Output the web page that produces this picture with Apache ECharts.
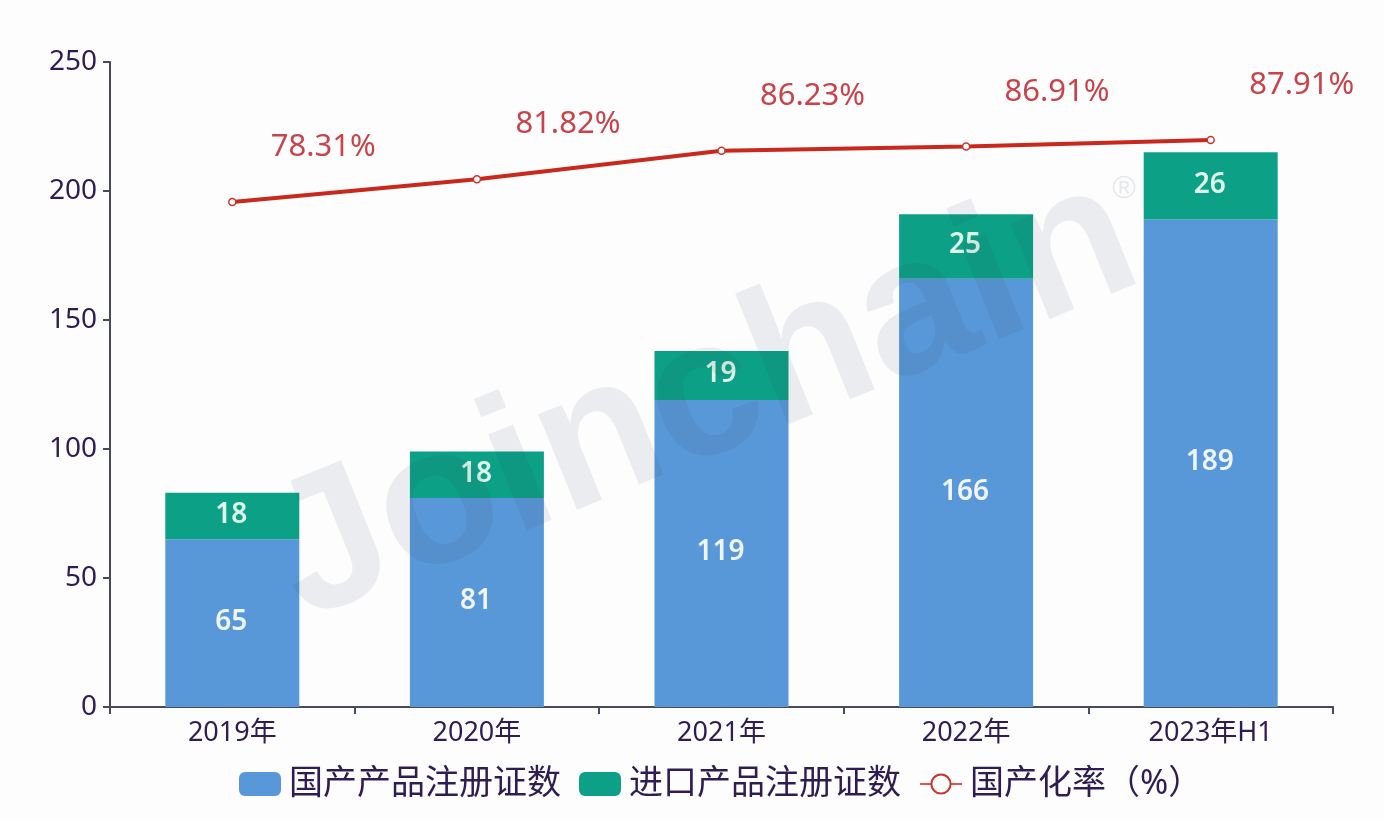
<!DOCTYPE html>
<html>
<head>
    <meta charset="utf-8" />
    <script src="https://cdn.jsdelivr.net/npm/echarts@6/dist/echarts.min.js"></script>
    <style>
        html, body { margin: 0; padding: 0; background: #fdfdfe; }
        #main { width: 1384px; height: 820px; }
    </style>
</head>
<body>
<div id="main"></div>
<script type="text/javascript">
    var categories = ['2019年', '2020年', '2021年', '2022年', '2023年H1'];
    var domestic = [65, 81, 119, 166, 189];
    var imported = [18, 18, 19, 25, 26];
    var domesticRate = [78.31, 81.82, 86.23, 86.91, 87.91];

    var textColor = '#2e1c52';
    var font = '"Noto Sans", "Noto Sans CJK SC", sans-serif';

    var chart = echarts.init(document.getElementById('main'));
    var option = {
        backgroundColor: '#fdfdfe',
        textStyle: { fontFamily: font },
        grid: { left: 110, right: 51, top: 62, bottom: 113 },
        legend: {
            left: 234,
            top: 762,
            itemWidth: 42,
            itemHeight: 24,
            itemGap: 18,
            textStyle: { fontSize: 34, color: textColor, fontFamily: font, padding: [0, 0, 0, 3] },
            data: [
                { name: '国产产品注册证数', icon: 'roundRect' },
                { name: '进口产品注册证数', icon: 'roundRect' },
                { name: '国产化率（%）', lineStyle: { width: 2, color: '#d2574f' } }
            ]
        },
        xAxis: {
            type: 'category',
            data: categories,
            axisLine: { lineStyle: { color: '#474a5e', width: 2 } },
            axisTick: { show: true, length: 7, lineStyle: { color: '#474a5e', width: 2 } },
            axisLabel: { fontSize: 27, color: textColor, margin: 13, fontFamily: font }
        },
        yAxis: [
            {
                type: 'value',
                min: 0,
                max: 250,
                interval: 50,
                splitLine: { show: false },
                axisLine: { show: true, lineStyle: { color: '#474a5e', width: 2 } },
                axisTick: { show: true, length: 7, lineStyle: { color: '#474a5e', width: 2 } },
                axisLabel: { fontSize: 28, color: textColor, margin: 13, fontFamily: font }
            },
            { type: 'value', min: 0, max: 100, show: false }
        ],
        series: [
            {
                name: '国产产品注册证数',
                type: 'bar',
                stack: 'total',
                barWidth: 134,
                data: domestic,
                itemStyle: { color: '#5898d8' },
                label: { show: true, position: 'inside', offset: [-1, -1], fontSize: 28, fontWeight: 600, color: '#f0f5fb', fontFamily: font }
            },
            {
                name: '进口产品注册证数',
                type: 'bar',
                stack: 'total',
                data: imported,
                itemStyle: { color: '#0ca186' },
                label: { show: true, position: 'inside', offset: [-1, -1], fontSize: 28, fontWeight: 600, color: '#dff7e8', fontFamily: font }
            },
            {
                name: '国产化率（%）',
                type: 'line',
                yAxisIndex: 1,
                data: domesticRate,
                symbol: 'circle',
                symbolSize: 7,
                itemStyle: { color: '#fdfdfe', borderColor: '#c9352b', borderWidth: 1.5 },
                lineStyle: { color: '#c9281c', width: 4 },
                label: {
                    show: true,
                    position: 'top',
                    distance: 5,
                    offset: [91, -30],
                    fontSize: 31,
                    color: '#c8444a',
                    fontFamily: font,
                    formatter: function (p) { return p.value.toFixed(2) + '%'; }
                }
            }
        ],
        // 水印
        graphic: [
            {
                type: 'text',
                x: 705,
                y: 400,
                rotation: 22 * Math.PI / 180,
                z: 100,
                silent: true,
                style: {
                    text: 'Joinchain',
                    fill: 'rgba(60,70,90,0.09)',
                    fontFamily: 'Liberation Sans',
                    fontWeight: 'bold',
                    fontSize: 195,
                    textAlign: 'center',
                    textVerticalAlign: 'middle'
                }
            },
            {
                type: 'text',
                x: 1124,
                y: 189,
                z: 100,
                silent: true,
                style: {
                    text: '®',
                    fill: 'rgba(60,70,90,0.12)',
                    fontFamily: 'Liberation Sans',
                    fontSize: 32,
                    textAlign: 'center',
                    textVerticalAlign: 'middle'
                }
            }
        ]
    };
    chart.setOption(option);
</script>
</body>
</html>
